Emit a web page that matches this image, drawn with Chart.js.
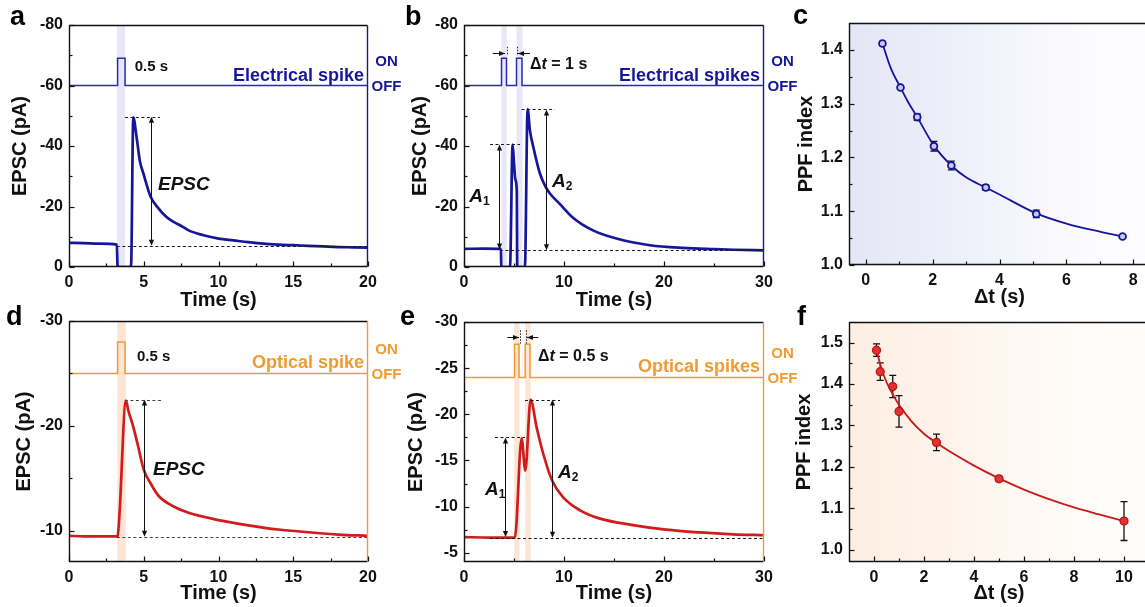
<!DOCTYPE html>
<html><head><meta charset="utf-8"><title>EPSC and PPF</title>
<script src="https://cdn.jsdelivr.net/npm/chart.js@4.4.1/dist/chart.umd.min.js"></script>
<style>
html,body{margin:0;padding:0;background:#fff;}
body{width:1145px;height:607px;overflow:hidden;position:relative;}
canvas{position:absolute;left:0;top:0;}
</style></head><body>
<canvas id="cA" width="1145" height="607"></canvas>
<canvas id="cB" width="1145" height="607"></canvas>
<canvas id="cC" width="1200" height="607"></canvas>
<canvas id="cD" width="1145" height="607"></canvas>
<canvas id="cE" width="1145" height="607"></canvas>
<canvas id="cF" width="1200" height="607"></canvas>
<script>
// ---------------- DATA ----------------
// Panel a: single electrical spike
const timeA  = [0,1,2,3.2,3.25,4.15,4.3,4.52,4.74,4.97,5.46,6,6.5,7,7.64,8,9,10,11,12,13,14,15,16,17,18,19,20];
const epscA  = [-8.0,-7.9,-7.7,-7.4,0,0,-49.5,-43,-35,-31,-23.2,-19.3,-16.6,-14.9,-13.2,-12.1,-10.5,-9.4,-8.8,-8.2,-7.7,-7.4,-7.2,-7.0,-6.8,-6.6,-6.5,-6.4];
const pulseTimeA  = [0,3.25,3.25,3.75,3.75,20];
const pulseLevelA = [-60,-60,-69,-69,-60,-60];
const bandsA = [[3.2,3.75]];

// Panel b: paired electrical spikes (dt = 1 s)
const timeB  = [0,2,3.7,3.72,4.6,4.86,4.99,5.13,5.28,5.32,6.09,6.36,6.6,6.93,7.59,8.16,8.59,9.59,10.9,12.9,15.25,18.6,21.9,25,27,30];
const epscB  = [-6.0,-6.1,-6.0,0,0,-40.5,-35,-29,-25,0,0,-52.1,-45,-39.7,-30.9,-26.5,-24.3,-20.8,-16.3,-12.1,-9.4,-7.2,-6.3,-5.9,-5.7,-5.5];
const pulseTimeB  = [0,3.75,3.75,4.25,4.25,5.25,5.25,5.8,5.8,30];
const pulseLevelB = [-60,-60,-69,-69,-60,-60,-69,-69,-60,-60];
const bandsB = [[3.75,4.27],[5.25,5.85]];

// Panel c: PPF index vs dt (electrical)
const dtC  = [0.5,1.04,1.54,2.04,2.56,3.59,5.1,7.68];
const ppfC = [1.412,1.330,1.275,1.221,1.185,1.144,1.095,1.053];
const errC = [0.004,0.003,0.006,0.009,0.008,0.005,0.007,0.003];
const fitXC = [0.5,0.75,1.04,1.25,1.54,2.04,2.56,3,3.59,4,5.1,6,7,7.68];
const fitYC = [1.412,1.366,1.330,1.305,1.275,1.222,1.185,1.163,1.144,1.131,1.096,1.077,1.062,1.053];

// Panel d: single optical spike
const timeD  = [0,1,2,3.2,3.25,3.81,3.96,4.3,4.63,5.0,5.5,6,7,8,10,12,14,16,18,20];
const epscD  = [-9.5,-9.45,-9.45,-9.45,-9.5,-22.4,-21.5,-19.9,-18.0,-15.8,-14.4,-13.3,-12.3,-11.7,-11.0,-10.5,-10.1,-9.84,-9.62,-9.5];
const pulseTimeD  = [0,3.25,3.25,3.75,3.75,20];
const pulseLevelD = [-25,-25,-28,-28,-25,-25];
const bandsD = [[3.23,3.8]];

// Panel e: paired optical spikes (dt = 0.5 s)
const timeE  = [0,2.5,5.09,5.76,6.13,6.66,7.26,7.93,8.82,9.92,11.6,13.6,16.9,20.2,23.6,26.9,30];
const epscE  = [-6.7,-6.65,-6.65,-17.4,-13.9,-21.6,-18.6,-15.7,-12.8,-11.0,-9.6,-8.7,-8.0,-7.5,-7.2,-7.0,-6.9];
const pulseTimeE  = [0,5.05,5.05,5.5,5.5,6.12,6.12,6.6,6.6,30];
const pulseLevelE = [-24,-24,-27.6,-27.6,-24,-24,-27.6,-27.6,-24,-24];
const bandsE = [[5.02,5.55],[6.12,6.65]];

// Panel f: PPF index vs dt (optical)
const dtF  = [0.1,0.25,0.75,1.0,2.5,5.0,10];
const ppfF = [1.482,1.430,1.394,1.334,1.259,1.171,1.069];
const errF = [0.015,0.021,0.027,0.038,0.020,0.006,0.047];
const fitXF = [0.1,0.3,0.5,0.75,1,1.5,2,2.5,3,4,5,6,7,8,9,10];
const fitYF = [1.482,1.437,1.405,1.375,1.35,1.31,1.28,1.258,1.238,1.203,1.172,1.145,1.122,1.102,1.085,1.069];

// Tick values / labels
const timeTicks20 = [0,5,10,15,20];
const timeTicks30 = [0,10,20,30];
const epscTicksAB = [-80,-60,-40,-20,0];
const epscTicksD  = [-30,-20,-10];
const epscTicksE  = [-30,-25,-20,-15,-10,-5];
const dtTicksC    = [0,2,4,6,8];
const dtTicksF    = [0,2,4,6,8,10];
const ppfTicksC   = [1.0,1.1,1.2,1.3,1.4];
const ppfTicksF   = [1.0,1.1,1.2,1.3,1.4,1.5];
const ppfLabelsC  = ['1.0','1.1','1.2','1.3','1.4'];
const ppfLabelsF  = ['1.0','1.1','1.2','1.3','1.4','1.5'];

// ---------------- STYLE ----------------
const FONT = '"Liberation Sans", Arial, Helvetica, sans-serif';
const BLUE = '#16169a', BLUE_P = '#2a2ab4', BLUE_BAND = '#e7e7f8';
const RED = '#d21c1c', ORANGE = '#f29a30', ORANGE_BAND = '#fce5d4';
const INK = '#111';
const fB = s => `bold ${s}px ${FONT}`;
const fBI = s => `italic bold ${s}px ${FONT}`;

function zip(xs, ys){ return xs.map((x,i)=>({x:x,y:ys[i]})); }

function rich(ctx, x, y, segs, align){
  let w = 0;
  segs.forEach(s=>{ ctx.font = s[1]; w += ctx.measureText(s[0]).width; });
  let cx = align==='right' ? x-w : (align==='center' ? x-w/2 : x);
  segs.forEach(s=>{ ctx.font = s[1]; ctx.fillText(s[0], cx, y + (s[2]||0)); cx += ctx.measureText(s[0]).width; });
}

function arrowHead(ctx, x, y, dir){
  const L = 6, h = 2.6;
  ctx.beginPath();
  if (dir==='up'){ ctx.moveTo(x,y); ctx.lineTo(x-h,y+L); ctx.lineTo(x+h,y+L); }
  if (dir==='down'){ ctx.moveTo(x,y); ctx.lineTo(x-h,y-L); ctx.lineTo(x+h,y-L); }
  if (dir==='left'){ ctx.moveTo(x,y); ctx.lineTo(x+L,y-h); ctx.lineTo(x+L,y+h); }
  if (dir==='right'){ ctx.moveTo(x,y); ctx.lineTo(x-L,y-h); ctx.lineTo(x-L,y+h); }
  ctx.closePath(); ctx.fill();
}

function minors(ticks, min, max){
  const out = [];
  const step = ticks[1]-ticks[0];
  const cand = [ticks[0]-step/2];
  for (let i=0;i<ticks.length-1;i++) cand.push((ticks[i]+ticks[i+1])/2);
  cand.push(ticks[ticks.length-1]+step/2);
  const lo = Math.min(min,max), hi = Math.max(min,max), eps=(hi-lo)*1e-4;
  cand.forEach(v=>{ if (v>lo+eps && v<hi-eps) out.push(v); });
  return out;
}

function decoPlugin(p){
  return {
    id: 'deco'+p.id,
    beforeDraw(chart){
      const {ctx, chartArea:a} = chart;
      if (p.grad){
        const g = ctx.createLinearGradient(a.left,0,a.right,0);
        g.addColorStop(0,p.grad[0]); g.addColorStop(0.85,p.grad[1]); g.addColorStop(1,p.grad[1]);
        ctx.save(); ctx.fillStyle = g;
        ctx.fillRect(a.left,a.top,a.right-a.left,a.bottom-a.top); ctx.restore();
      }
    },
    beforeDatasetsDraw(chart){
      const {ctx, chartArea:a, scales:{x,y}} = chart;
      ctx.save();
      (p.bands||[]).forEach(b=>{
        const x0 = x.getPixelForValue(b[0]), x1 = x.getPixelForValue(b[1]);
        ctx.fillStyle = p.bandColor;
        ctx.fillRect(x0, a.top+1, x1-x0, a.bottom-a.top-1);
      });
      if (p.err){
        ctx.strokeStyle = '#111'; ctx.lineWidth = 1.3;
        p.err.x.forEach((xv,i)=>{
          const px = x.getPixelForValue(xv);
          const y0 = y.getPixelForValue(p.err.y[i]-p.err.e[i]);
          const y1 = y.getPixelForValue(p.err.y[i]+p.err.e[i]);
          ctx.beginPath();
          ctx.moveTo(px,y0); ctx.lineTo(px,y1);
          ctx.moveTo(px-3.5,y0); ctx.lineTo(px+3.5,y0);
          ctx.moveTo(px-3.5,y1); ctx.lineTo(px+3.5,y1);
          ctx.stroke();
        });
      }
      ctx.restore();
    },
    afterDatasetsDraw(chart){
      const {ctx, chartArea:a, scales:{x,y}} = chart;
      ctx.save();
      ctx.setLineDash([3,2.5]); ctx.lineWidth = 1.2; ctx.strokeStyle = p.dashColor || '#1a1a1a';
      (p.dashes||[]).forEach(d=>{
        const yy = Math.round(y.getPixelForValue(d[2]))+0.5;
        ctx.beginPath(); ctx.moveTo(x.getPixelForValue(d[0]),yy); ctx.lineTo(x.getPixelForValue(d[1]),yy); ctx.stroke();
      });
      ctx.setLineDash([1.5,1.5]); ctx.strokeStyle = '#222'; ctx.lineWidth = 1;
      (p.dots||[]).forEach(d=>{
        const xx = Math.round(x.getPixelForValue(d[0]))+0.5;
        ctx.beginPath(); ctx.moveTo(xx,y.getPixelForValue(d[1])); ctx.lineTo(xx,y.getPixelForValue(d[2])); ctx.stroke();
      });
      ctx.setLineDash([]);
      ctx.strokeStyle = '#111'; ctx.fillStyle = '#111'; ctx.lineWidth = 1;
      (p.varrows||[]).forEach(v=>{
        const xx = Math.round(x.getPixelForValue(v[0]))+0.5;
        const yt = y.getPixelForValue(v[1]), yb = y.getPixelForValue(v[2]);
        ctx.beginPath(); ctx.moveTo(xx,yt+3); ctx.lineTo(xx,yb-3); ctx.stroke();
        arrowHead(ctx,xx,yt,'up'); arrowHead(ctx,xx,yb,'down');
      });
      (p.harrows||[]).forEach(h=>{
        const x0 = x.getPixelForValue(h[0]), x1 = x.getPixelForValue(h[1]);
        const yy = Math.round(y.getPixelForValue(h[2]))+0.5;
        ctx.beginPath(); ctx.moveTo(x0,yy); ctx.lineTo(x1,yy); ctx.stroke();
        arrowHead(ctx,x1,yy, x1>x0 ? 'right':'left');
      });
      const L = Math.round(a.left)+0.5, R = Math.round(a.right)-0.5, T = Math.round(a.top)+0.5, B = Math.round(a.bottom)-0.5;
      ctx.lineWidth = 1.4; ctx.strokeStyle = '#111';
      ctx.beginPath(); ctx.moveTo(R,T); ctx.lineTo(L,T); ctx.lineTo(L,B); ctx.lineTo(R,B); ctx.stroke();
      ctx.strokeStyle = p.rightColor || '#111';
      ctx.beginPath(); ctx.moveTo(R,T); ctx.lineTo(R,B); ctx.stroke();
      ctx.strokeStyle = '#111'; ctx.lineWidth = 1.2;
      const xt = p.xticks, yt = p.yticks;
      const xm = minors(xt, p.xmin, p.xmax), ym = minors(yt, p.ymin, p.ymax);
      const tk = (px,len,vert)=>{ ctx.beginPath(); if (vert){ ctx.moveTo(px,B); ctx.lineTo(px,B-len);} else { ctx.moveTo(L,px); ctx.lineTo(L+len,px);} ctx.stroke(); };
      xt.forEach(v=>tk(Math.round(x.getPixelForValue(v))+0.5,5,true));
      xm.forEach(v=>tk(Math.round(x.getPixelForValue(v))+0.5,3,true));
      yt.forEach(v=>tk(Math.round(y.getPixelForValue(v))+0.5,5,false));
      ym.forEach(v=>tk(Math.round(y.getPixelForValue(v))+0.5,3,false));
      ctx.textBaseline = 'middle'; ctx.fillStyle = INK;
      (p.texts||[]).forEach(t=>{ rich(ctx, x.getPixelForValue(t.x), y.getPixelForValue(t.y), t.segs, 'left'); });
      if (p.spike){
        const off = y.getPixelForValue(p.spike.off);
        ctx.fillStyle = p.spike.color;
        ctx.textBaseline = 'alphabetic';
        rich(ctx, a.right-4, off-5, [[p.spike.text, fB(18)]], 'right');
        ctx.textBaseline = 'middle';
        rich(ctx, a.right+18.5, off-24, [['ON', fB(15)]], 'center');
        rich(ctx, a.right+18.5, off+1, [['OFF', fB(15)]], 'center');
      }
      ctx.fillStyle = '#000'; ctx.textBaseline = 'alphabetic';
      rich(ctx, p.letter[1], p.letter[2], [[p.letter[0], fB(27)]], 'left');
      ctx.restore();
    }
  };
}

function makeChart(canvasId, p, datasets){
  const cw = document.getElementById(canvasId).width, ch = 607;
  const tickFont = {family:FONT, size:16, weight:'bold'};
  const titleFont = {family:FONT, size:20, weight:'bold'};
  return new Chart(document.getElementById(canvasId), {
    type: p.type || 'line',
    data: {datasets: datasets},
    options: {
      responsive:false, animation:false, devicePixelRatio:1,
      layout:{padding:{left:p.L-p.W, top:p.T, right:cw-p.R, bottom:ch-p.B-p.H}},
      plugins:{legend:{display:false}, tooltip:{enabled:false}},
      elements:{point:{radius:0}},
      scales:{
        x:{type:'linear', min:p.xmin, max:p.xmax,
           afterBuildTicks: s=>{ s.ticks = p.xticks.map(v=>({value:v})); },
           afterFit: s=>{ s.height = p.H; },
           grid:{display:false, drawTicks:false}, border:{display:false},
           ticks:{padding:6, font:tickFont, color:INK, maxRotation:0, autoSkip:false,
                  callback:(v,i)=> p.xlabels ? p.xlabels[i] : String(v)},
           title:{display:true, text:p.xtitle, font:titleFont, color:INK, padding:0}},
        y:{type:'linear', min:p.ymin, max:p.ymax, reverse:!!p.reverse,
           afterBuildTicks: s=>{ s.ticks = p.yticks.map(v=>({value:v})); },
           afterFit: s=>{ s.width = p.W; },
           grid:{display:false, drawTicks:false}, border:{display:false},
           ticks:{padding:6, font:tickFont, color:INK, autoSkip:false,
                  callback:(v,i)=> p.ylabels ? p.ylabels[i] : String(v)},
           title:{display:true, text:p.ytitle, font:titleFont, color:INK, padding:0}}
      }
    },
    plugins:[decoPlugin(p)]
  });
}

function traceSets(pt, pv, t, v, pulseColor, traceColor){
  return [
    {data:zip(pt,pv), borderColor:pulseColor, borderWidth:1.5, pointRadius:0, tension:0, order:2},
    {data:zip(t,v), borderColor:traceColor, borderWidth:2.7, pointRadius:0, cubicInterpolationMode:'monotone', order:1}
  ];
}

const A = s=>[['A',fBI(19)],[s,fB(12),5]];

makeChart('cA', {id:'a', L:69,R:368,T:25,B:267,W:61,H:45, xmin:0,xmax:20,ymin:-80,ymax:0,reverse:true,
  xticks:timeTicks20, yticks:epscTicksAB, xtitle:'Time (s)', ytitle:'EPSC (pA)',
  rightColor:BLUE, bands:bandsA, bandColor:BLUE_BAND,
  dashes:[[3.74,6.08,-49.7],[3.2,20,-7.0]], varrows:[[5.46,-49.7,-7.0]],
  texts:[{x:4.4,y:-66.3,segs:[['0.5 s',fB(15)]]},{x:5.95,y:-27.1,segs:[['EPSC',fBI(19)]]}],
  spike:{text:'Electrical spike', off:-60, color:BLUE}, letter:['a',10,25]},
  traceSets(pulseTimeA,pulseLevelA,timeA,epscA,BLUE_P,BLUE));

makeChart('cB', {id:'b', L:464,R:764,T:25,B:267,W:56,H:45, xmin:0,xmax:30,ymin:-80,ymax:0,reverse:true,
  xticks:timeTicks30, yticks:epscTicksAB, xtitle:'Time (s)', ytitle:'EPSC (pA)',
  rightColor:BLUE, bands:bandsB, bandColor:BLUE_BAND,
  dashes:[[2.6,5.6,-40.5],[5.76,9.09,-52.1],[3.6,30,-5.5]],
  varrows:[[3.5,-40.5,-5.8],[8.16,-52.1,-5.5]],
  harrows:[[2.87,4.1,-70.7],[6.6,5.4,-70.7]], dots:[[4.27,-72.8,-69.8],[5.27,-72.8,-69.8]],
  texts:[{x:6.6,y:-66.8,segs:[['\u0394',fB(16)],['t',fBI(16)],[' = 1 s',fB(16)]]},
         {x:0.53,y:-23.2,segs:A('1')},{x:8.8,y:-28.1,segs:A('2')}],
  spike:{text:'Electrical spikes', off:-60, color:BLUE}, letter:['b',405,25]},
  traceSets(pulseTimeB,pulseLevelB,timeB,epscB,BLUE_P,BLUE));

makeChart('cC', {id:'c', type:'scatter', L:849,R:1150,T:23,B:265,W:55,H:44, xmin:-0.5,xmax:8.5,ymin:1.0,ymax:1.45,
  xticks:dtTicksC, yticks:ppfTicksC, ylabels:ppfLabelsC, xtitle:'\u0394t (s)', ytitle:'PPF index',
  grad:['#e5e5f6','#fdfdff'], err:{x:dtC,y:ppfC,e:errC}, letter:['c',793,24]},
  [
    {data:zip(fitXC,fitYC), showLine:true, borderColor:BLUE, borderWidth:1.8, pointRadius:0, cubicInterpolationMode:'monotone', order:2},
    {data:zip(dtC,ppfC), showLine:false, pointRadius:3.4, pointBackgroundColor:'#c9c9ee', pointBorderColor:'#15159a', pointBorderWidth:1.8, order:1}
  ]);

makeChart('cD', {id:'d', L:69,R:368,T:321,B:562,W:57,H:43, xmin:0,xmax:20,ymin:-30,ymax:-7,reverse:true,
  xticks:timeTicks20, yticks:epscTicksD, xtitle:'Time (s)', ytitle:'EPSC (pA)',
  rightColor:ORANGE, bands:bandsD, bandColor:ORANGE_BAND, dashColor:'#444',
  dashes:[[3.74,6.26,-22.5],[3.2,20,-9.37]], varrows:[[5.01,-22.5,-9.4]],
  texts:[{x:4.55,y:-26.6,segs:[['0.5 s',fB(15)]]},{x:5.62,y:-15.8,segs:[['EPSC',fBI(19)]]}],
  spike:{text:'Optical spike', off:-25, color:ORANGE}, letter:['d',6,325]},
  traceSets(pulseTimeD,pulseLevelD,timeD,epscD,ORANGE,RED));

makeChart('cE', {id:'e', L:464,R:764,T:322,B:562,W:60,H:43, xmin:0,xmax:30,ymin:-30,ymax:-4,reverse:true,
  xticks:timeTicks30, yticks:epscTicksE, xtitle:'Time (s)', ytitle:'EPSC (pA)',
  rightColor:ORANGE, bands:bandsE, bandColor:ORANGE_BAND,
  dashes:[[3.1,6.1,-17.5],[6.1,9.6,-21.6],[2.6,30,-6.63]],
  varrows:[[4.1,-17.5,-6.7],[8.82,-21.6,-6.63]],
  harrows:[[4.33,5.5,-28.4],[7.43,6.3,-28.4]], dots:[[5.62,-29.1,-27.66],[6.15,-29.1,-27.66]],
  texts:[{x:7.4,y:-26.2,segs:[['\u0394',fB(16)],['t',fBI(16)],[' = 0.5 s',fB(16)]]},
         {x:2.1,y:-11.8,segs:A('1')},{x:9.4,y:-13.7,segs:A('2')}],
  spike:{text:'Optical spikes', off:-24, color:ORANGE}, letter:['e',400,325]},
  traceSets(pulseTimeE,pulseLevelE,timeE,epscE,ORANGE,RED));

makeChart('cF', {id:'f', type:'scatter', L:849,R:1149,T:322,B:562,W:57,H:43, xmin:-1,xmax:11,ymin:0.97,ymax:1.55,
  xticks:dtTicksF, yticks:ppfTicksF, ylabels:ppfLabelsF, xtitle:'\u0394t (s)', ytitle:'PPF index',
  grad:['#fdeee2','#fffdfb'], err:{x:dtF,y:ppfF,e:errF}, letter:['f',797,325]},
  [
    {data:zip(fitXF,fitYF), showLine:true, borderColor:'#c81a1a', borderWidth:1.8, pointRadius:0, cubicInterpolationMode:'monotone', order:2},
    {data:zip(dtF,ppfF), showLine:false, pointRadius:4, pointBackgroundColor:'#e43030', pointBorderColor:'#b31212', pointBorderWidth:1.2, order:1}
  ]);
</script>
</body></html>
